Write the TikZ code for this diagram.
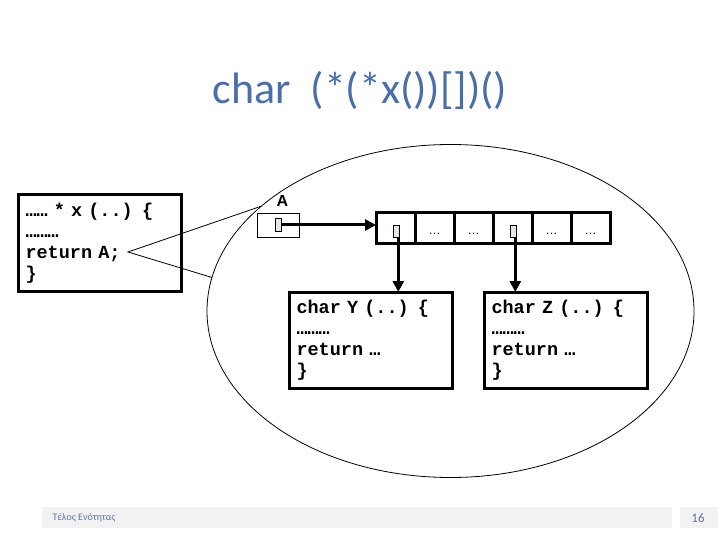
\documentclass[tikz,border=0pt]{standalone}
\usepackage{fontspec}
\setmainfont{Carlito}
\newfontfamily\codefont{Liberation Mono}
\newfontfamily\labelfont{Liberation Sans}
\usetikzlibrary{positioning, calc, arrows.meta, shapes.geometric}

\definecolor{titleblue}{RGB}{74,110,170}
\definecolor{footblue}{RGB}{96,118,158}
\definecolor{footgrey}{RGB}{242,242,242}
\definecolor{ptrgrey}{RGB}{230,230,222}

\begin{document}
\begin{tikzpicture}[
  x=1pt, y=-1pt,
  title/.style     = {font=\fontsize{44}{48}\selectfont, text=titleblue},
  codebox/.style   = {draw, line width=3pt, outer sep=0pt,
                      minimum width=163pt, minimum height=96pt,
                      text width=148pt, inner xsep=7.5pt, align=left,
                      anchor=north west,
                      font=\codefont\bfseries\fontsize{18.5}{21}\selectfont},
  cell/.style      = {draw, line width=3pt, outer sep=0pt, inner sep=0pt,
                      minimum width=39pt, minimum height=30pt,
                      text height=12pt, text depth=0pt,
                      font=\labelfont\fontsize{12}{14}\selectfont},
  ptr/.style       = {draw, line width=0.6pt, fill=ptrgrey, inner sep=0pt,
                      minimum width=6pt, minimum height=12pt},
  varbox/.style    = {draw, line width=0.8pt, minimum width=42pt,
                      minimum height=24pt},
  varname/.style   = {font=\labelfont\bfseries\fontsize{16}{18}\selectfont},
  frame/.style     = {draw, ellipse, line width=0.8pt, inner sep=0pt,
                      outer sep=0pt, minimum width=487pt,
                      minimum height=333pt},
  arr/.style       = {-{Triangle[length=11pt,width=11pt]}, line width=3pt},
  footer/.style    = {fill=footgrey, draw=none},
]
\useasboundingbox (0,0) rectangle (720,540);

% =============================================================
% Title
% =============================================================
\node[title, anchor=base] (T) at (360,104) {char\ \ (*(*x())[])()};

% =============================================================
% Memory region (ellipse) and caller code
% =============================================================
\node[frame] (frame) at (450.5,311) {};

\node[codebox] (F) at (18,195)
  {…… * x (..) \{\\………\\return A;\\\}};

% lines from "return A;" out to the ellipse
\coordinate (ret) at (128,252);
\draw[line width=0.8pt] (frame.151) -- (ret) -- (frame.172);

% =============================================================
% Variable A and the array of pointers
% =============================================================
\node[varbox] (Abox) at (278,225) {};
\node[ptr, minimum height=13pt] (pa) at (Abox.center) {};
\node[varname, anchor=base] (Alab) at (282.5,207) {A};

\node[cell] (c1) at (395.5,228) {};
\node[cell, right=0pt of c1] (c2) {…};
\node[cell, right=0pt of c2] (c3) {…};
\node[cell, right=0pt of c3] (c4) {};
\node[cell, right=0pt of c4] (c5) {…};
\node[cell, right=0pt of c5] (c6) {…};

\node[ptr] (p1) at ($(c1.center)+(1,3)$) {};
\node[ptr] (p4) at ($(c4.center)+(1,3)$) {};

\draw[arr] (pa.east) -- (pa.east -| c1.west);

% =============================================================
% Functions pointed to
% =============================================================
\node[codebox] (Y) at (289,292) {char Y (..) \{\\………\\return …\\\}};
\node[codebox] (Z) at (484,292) {char Z (..) \{\\………\\return …\\\}};

% tails of the two pointers
\coordinate (t1) at ($(p1.south east)+(-1.5,0)$);
\coordinate (t4) at ($(p4.south east)+(-1.5,0)$);
\draw[arr] (t1) -- (t1 |- Y.north);
\draw[arr] (t4) -- (t4 |- Z.north);

% =============================================================
% Footer
% =============================================================
\fill[footer] (42,507) rectangle (672,528);
\fill[footer] (680,507) rectangle (718,528);
\node[anchor=west, text=footblue, font=\fontsize{10}{12}\selectfont]
  (foot) at (49,518) {Τέλος Ενότητας};
\node[text=footblue, font=\fontsize{13}{15}\selectfont]
  (page) at (698,518) {16};

\end{tikzpicture}
\end{document}
